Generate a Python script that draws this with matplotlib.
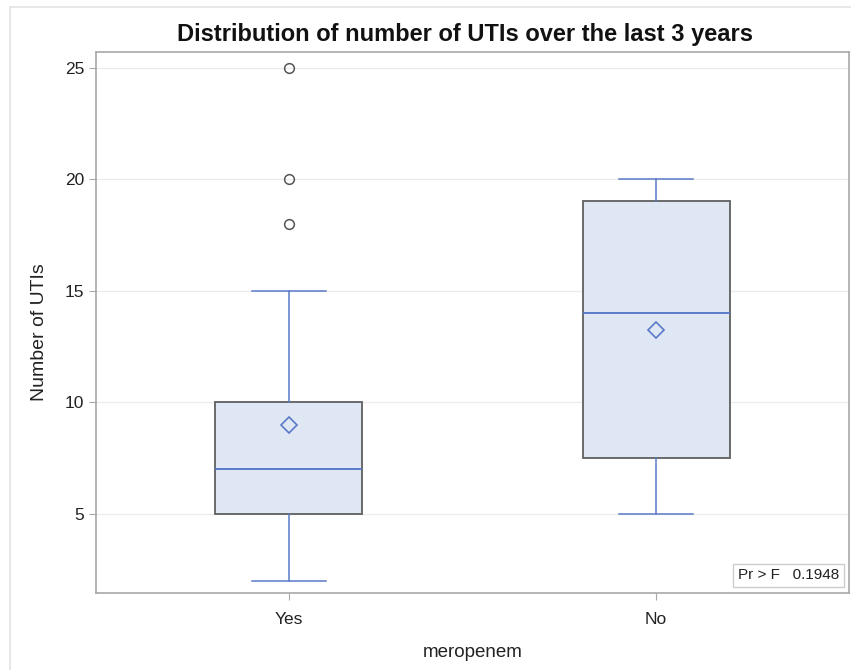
import matplotlib
matplotlib.use("Agg")
import matplotlib.pyplot as plt
from matplotlib.patches import Rectangle

plt.rcParams['font.family'] = ['Liberation Sans', 'DejaVu Sans']

# summary statistics
groups = ['Yes', 'No']
whislo = [2, 5]
q1 = [5, 7.5]
med = [7, 14]
q3 = [10, 19]
whishi = [15, 20]
means = [9, 13.25]
outliers = [[18, 20, 25], []]
p_value = 0.1948

stats = []
for i, g in enumerate(groups):
    stats.append(dict(label=g, whislo=whislo[i], q1=q1[i], med=med[i], q3=q3[i],
                      whishi=whishi[i], mean=means[i], fliers=outliers[i]))

blue = '#5a7ac8'
fig = plt.figure(figsize=(8.51, 6.70), dpi=100)
ax = fig.add_axes([0.1128, 0.1149, 0.8848, 0.8075])

ax.bxp(stats, positions=[0, 1], widths=0.4, patch_artist=True, showmeans=True,
       boxprops=dict(facecolor='#dfe7f4', edgecolor='#5f5f5f', linewidth=1.3),
       whiskerprops=dict(color=blue, linewidth=1.1),
       capprops=dict(color=blue, linewidth=1.1),
       medianprops=dict(color=blue, linewidth=1.4),
       meanprops=dict(marker='D', markerfacecolor='none', markeredgecolor=blue,
                      markersize=8, markeredgewidth=1.2),
       flierprops=dict(marker='o', markerfacecolor='none', markeredgecolor='#555555',
                       markersize=7, markeredgewidth=1.1),
       zorder=3)

ax.set_xlim(-0.525, 1.525)
ax.set_ylim(1.45, 25.7)
ax.set_yticks([5, 10, 15, 20, 25])
ax.set_xticks([0, 1])
ax.set_xticklabels(groups)
ax.yaxis.grid(True, color='#ebebeb', linewidth=0.9, zorder=0)
ax.set_axisbelow(True)
for s in ax.spines.values():
    s.set_color('#a8a8a8')
    s.set_linewidth(1.2)
ax.tick_params(axis='both', colors='#a8a8a8', labelcolor='#222222', labelsize=12.5, length=5)
ax.tick_params(axis='x', pad=9)

ax.set_ylabel('Number of UTIs', fontsize=14, color='#222222', labelpad=12, y=0.482)
ax.set_xlabel('meropenem', fontsize=13.5, color='#222222', labelpad=12)
fig.text(0.546, 0.949, 'Distribution of number of UTIs over the last 3 years',
         ha='center', va='center', fontsize=17, fontweight='bold', color='#111111')

ax.text(0.987, 0.033, 'Pr > F   %.4f' % p_value, transform=ax.transAxes, ha='right',
        va='center', fontsize=11, color='#222222',
        bbox=dict(boxstyle='square,pad=0.3', facecolor='white', edgecolor='#cccccc'))

# light outer frame
fig.patches.append(Rectangle((10 / 851, -0.01), 1.0, 1 - 7 / 670 + 0.01,
                             transform=fig.transFigure, fill=False,
                             edgecolor='#e3e3e3', linewidth=1.2))

fig.savefig('out.png', dpi=100)
